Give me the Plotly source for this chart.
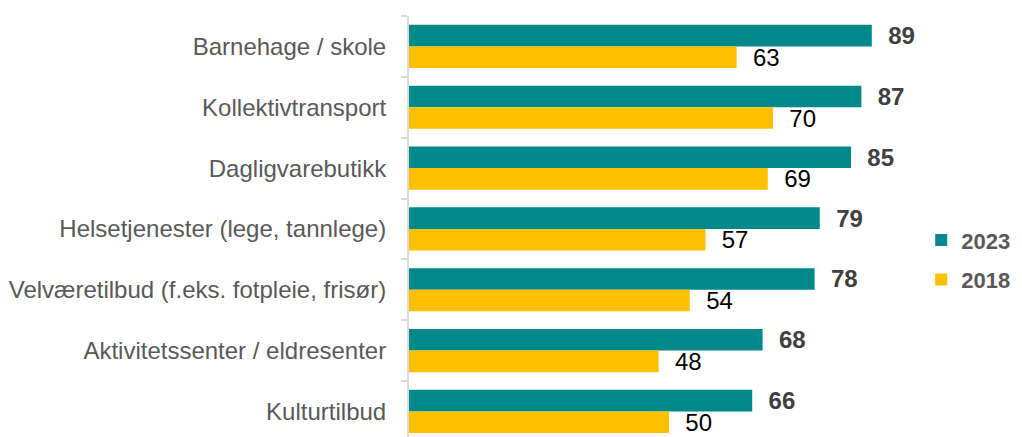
import plotly.graph_objects as go

categories = [
    "Barnehage / skole",
    "Kollektivtransport",
    "Dagligvarebutikk",
    "Helsetjenester (lege, tannlege)",
    "Velværetilbud (f.eks. fotpleie, frisør)",
    "Aktivitetssenter / eldresenter",
    "Kulturtilbud",
]
values_2023 = [89, 87, 85, 79, 78, 68, 66]
values_2018 = [63, 70, 69, 57, 54, 48, 50]
series_names = ["2023", "2018"]

TEAL = "#00898B"
YELLOW = "#FFC000"
FONT = "Liberation Sans, Arial, sans-serif"
FS = 24

fig = go.Figure()
fig.add_trace(go.Bar(
    y=categories, x=values_2023, orientation="h", name=series_names[0],
    marker=dict(color=TEAL, line=dict(width=0)),
    texttemplate="\u00a0\u00a0%{x}", textposition="outside", cliponaxis=False,
    constraintext="none",
    textfont=dict(family=FONT, size=FS, color="#404040", weight="bold"),
    legendgroup="a",
))
fig.add_trace(go.Bar(
    y=categories, x=values_2018, orientation="h", name=series_names[1],
    marker=dict(color=YELLOW, line=dict(width=0)),
    texttemplate="\u00a0\u00a0%{x}", textposition="outside", cliponaxis=False,
    constraintext="none",
    textfont=dict(family=FONT, size=FS, color="#000000"),
    legendgroup="b",
))

# page body has an 8px default margin, so figure is sized/offset to compensate
fig.update_layout(
    template="none",
    width=1014, height=429,
    margin=dict(l=401, r=93, t=8, b=0, autoexpand=False),
    paper_bgcolor="white", plot_bgcolor="white",
    barmode="group", bargap=0.29, bargroupgap=0,
    font=dict(family=FONT, size=FS, color="#595959"),
    showlegend=True,
    legend=dict(
        x=0.985, xanchor="left", y=0.42, yanchor="middle",
        font=dict(family=FONT, size=22, color="#595959", weight="bold"),
        tracegroupgap=8, traceorder="grouped", bgcolor="rgba(0,0,0,0)",
    ),
    xaxis=dict(range=[0, 100], visible=False, showgrid=False, zeroline=False, automargin=False),
    yaxis=dict(
        type="category", autorange=False, range=[6.42, -0.5], automargin=False,
        showline=True, linecolor="#D9D9D9", linewidth=2,
        ticks="outside", tickson="boundaries", ticklen=6, tickcolor="#D9D9D9", tickwidth=2,
        tickfont=dict(family=FONT, size=FS, color="#595959"),
        ticklabelstandoff=16, showgrid=False, zeroline=False,
    ),
)

fig.write_html("out.html")
